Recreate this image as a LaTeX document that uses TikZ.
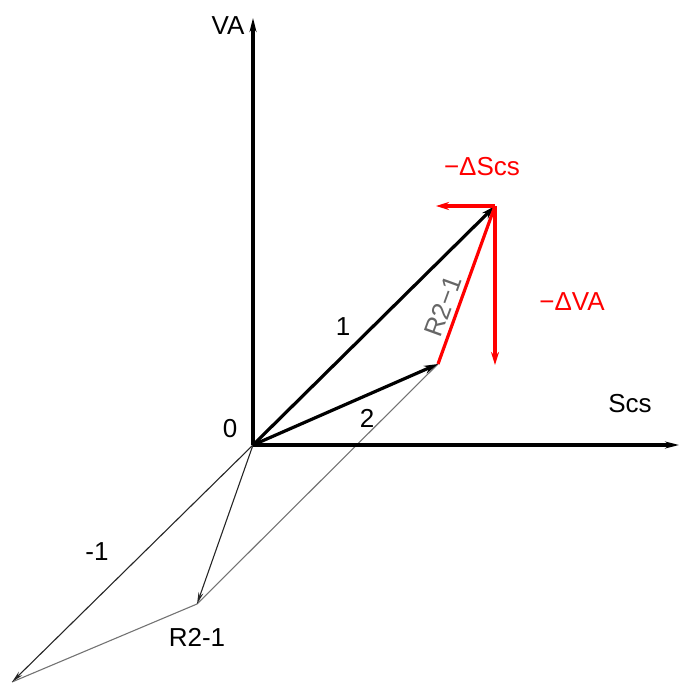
\documentclass[tikz,border=0pt]{standalone}
\usepackage{fontspec}
\setmainfont{Liberation Sans}
\usetikzlibrary{arrows.meta}
\begin{document}
\begin{tikzpicture}[x=1pt,y=-1pt,
  lbl/.style={inner sep=0pt,font=\fontsize{26}{28}\selectfont},
  redlbl/.style={lbl,text=red},
  axis/.style={line width=3.2pt,-{Stealth[length=14pt,width=7pt]}},
  vec/.style={line width=3.2pt,-{Stealth[length=14pt,width=8pt]}},
  redvec/.style={red,line width=3.2pt,-{Stealth[length=13pt,width=8pt]}},
  thinvec/.style={black!85,line width=1.1pt,-{Stealth[length=12pt,width=5pt]}},
  guide/.style={black!55,line width=1.1pt}]
\useasboundingbox (0,0) rectangle (679,684);
\coordinate (O) at (253,445);
\coordinate (Vtop) at (253,18);
\coordinate (Send) at (679,445);
\coordinate (P1) at (495,206);
\coordinate (P2) at (438,364);
\coordinate (M1) at (12,682);
\coordinate (R) at (197,604);
\coordinate (DS) at (436,206);
\coordinate (DV) at (495,365);
% thin construction lines
\draw[guide] (M1) -- (R) -- (P2);
\draw[thinvec] (O) -- (R);
\draw[thinvec] (O) -- (M1);
% axes
\draw[axis] (O) -- (Vtop);
\draw[axis] (O) -- (Send);
% vectors
\draw[vec] (O) -- (P1);
\draw[vec] (O) -- (P2);
% red
\draw[red,line width=3.2pt] (P2) -- (P1);
\draw[redvec] (P1) -- (DS);
\draw[redvec] (P1) -- (DV);
% labels
\node[lbl] (lVA) at (228,26) {VA};
\node[lbl] (lScs) at (630,404) {Scs};
\node[lbl] (l0) at (230,429) {0};
\node[lbl] (l1) at (343,327) {1};
\node[lbl] (l2) at (367,418) {2};
\node[lbl] (lm1) at (97,552) {-1};
\node[lbl] (lR) at (197,637) {R2-1};
\node[lbl,text=black!60,rotate=70] (lRr) at (443,306) {R2−1};
\node[redlbl] (lDS) at (482,167) {−ΔScs};
\node[redlbl] (lDV) at (572,302) {−ΔVA};
\end{tikzpicture}
\end{document}
